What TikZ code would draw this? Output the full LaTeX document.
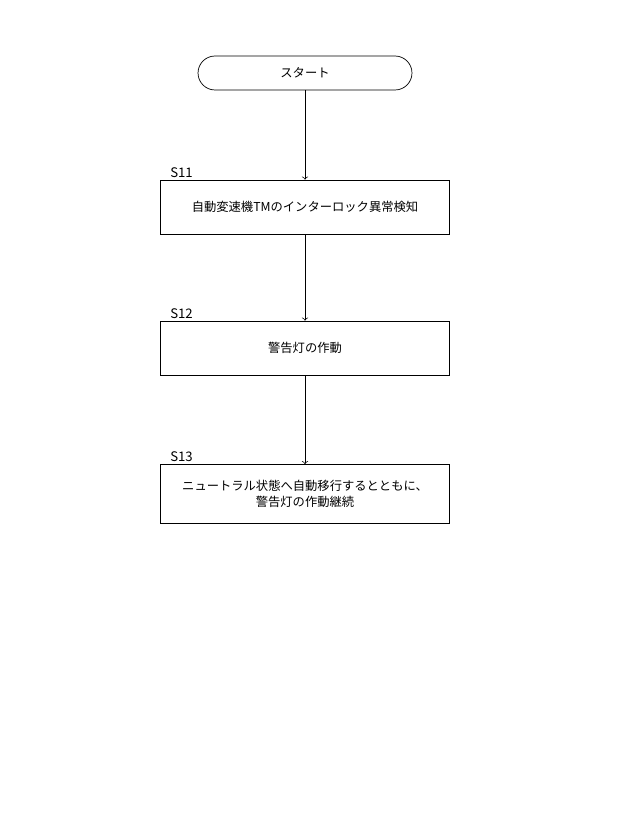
\documentclass[tikz,border=0pt]{standalone}
\usepackage{fontspec}
\setmainfont{Noto Sans CJK JP}
\usetikzlibrary{positioning}

\begin{document}
\begin{tikzpicture}[x=0.02cm, y=-0.02cm,
    font=\fontsize{7}{9}\selectfont,
    terminal/.style={draw, rounded corners=0.34cm, minimum width=4.28cm, minimum height=0.68cm, inner sep=0pt},
    stepbox/.style={draw, minimum width=5.78cm, minimum height=1.08cm, align=center, inner sep=0pt},
    steplabel/.style={anchor=south west, inner sep=1pt, font=\fontsize{7.5}{9}\selectfont}]

  \useasboundingbox (0,0) rectangle (640,827);

  % nodes
  \node[terminal] (start) at (305,73) {スタート};
  \node[stepbox] (s11) at (305,207) {自動変速機TMのインターロック異常検知};
  \node[stepbox] (s12) at (305,348) {警告灯の作動};
  \node[stepbox, minimum height=1.18cm] (s13) at (305,494)
    {ニュートラル状態へ自動移行するとともに、\\警告灯の作動継続};

  % labels
  \node[steplabel] at (s11.north west) [xshift=0.16cm] {S11};
  \node[steplabel] at (s12.north west) [xshift=0.16cm] {S12};
  \node[steplabel] at (s13.north west) [xshift=0.16cm] {S13};

  % arrows
  \draw [->] (start) -- (s11);
  \draw [->] (s11) -- (s12);
  \draw [->] (s12) -- (s13);

\end{tikzpicture}
\end{document}
